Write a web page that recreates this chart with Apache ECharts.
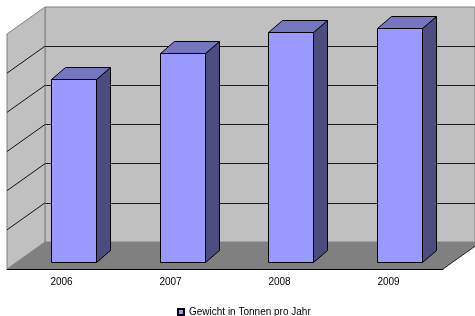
<!DOCTYPE html>
<html>
<head>
<meta charset="utf-8">
<script src="https://cdn.jsdelivr.net/npm/echarts@6/dist/echarts.min.js"></script>
<style>
  html, body { margin: 0; padding: 0; background: #fff; }
  #chart { width: 475px; height: 316px; }
</style>
</head>
<body>
<div id="chart"></div>
<script>
// Daten
const years = ['2006', '2007', '2008', '2009'];
const tonnen = [4.7, 5.35, 5.9, 6.0];
const valueTicks = [0, 1, 2, 3, 4, 5, 6];
const seriesName = 'Gewicht in Tonnen pro Jahr';

const valueMax = valueTicks[valueTicks.length - 1];
const font = 'Liberation Sans, Arial, sans-serif';

// 3D-Versatz (Pixel)
const wallDepth = [-38, 27];   // Rueckwand -> Vorderkante
const barDepth = [14, -12];    // Tiefe der Saeulen
const floorWidth = 436;

const chart = echarts.init(document.getElementById('chart'));

function add(p, d) {
  return [p[0] + d[0], p[1] + d[1]];
}

function renderWalls(params, api) {
  const bl = api.coord([0, 0]);
  const tl = api.coord([0, valueMax]);
  const fl = add(bl, wallDepth);
  const fr = [fl[0] + floorWidth, fl[1]];
  const br = [bl[0] + floorWidth, bl[1]];
  const children = [
    {
      type: 'polygon',
      shape: { points: [bl, fl, fr, br] },
      style: { fill: '#808080', stroke: null }
    },
    {
      type: 'line',
      shape: { x1: fr[0], y1: fr[1], x2: br[0], y2: br[1] },
      style: { stroke: '#222', lineWidth: 1 }
    },
    {
      type: 'polygon',
      shape: { points: [bl, fl, add(tl, wallDepth), tl] },
      style: { fill: '#c0c0c0', stroke: '#808080', lineWidth: 1 }
    }
  ];
  valueTicks.slice(1, -1).forEach(function (v) {
    const p = api.coord([0, v]);
    const q = add(p, wallDepth);
    children.push({
      type: 'line',
      shape: { x1: p[0], y1: p[1], x2: q[0], y2: q[1] },
      style: { stroke: '#111', lineWidth: 1 }
    });
  });
  return { type: 'group', children: children };
}

function renderBar(params, api) {
  const top = api.coord([api.value(0), api.value(1)]);
  const base = api.coord([api.value(0), 0]);
  const w = Math.round(api.size([1, 0])[0] * 0.41);
  const x = Math.round(top[0] - w / 2) + 0.5;
  const y = Math.round(top[1]) + 0.5;
  const y0 = Math.round(base[1]) + 0.5;
  const dx = barDepth[0], dy = barDepth[1];
  const line = { stroke: '#000', lineWidth: 1 };
  return {
    type: 'group',
    children: [
      {
        type: 'polygon',
        shape: { points: [[x + w, y], [x + w + dx, y + dy], [x + w + dx, y0 + dy], [x + w, y0]] },
        style: Object.assign({ fill: '#4c4c7e' }, line)
      },
      {
        type: 'polygon',
        shape: { points: [[x, y], [x + dx, y + dy], [x + w + dx, y + dy], [x + w, y]] },
        style: Object.assign({ fill: '#7676c0' }, line)
      },
      {
        type: 'rect',
        shape: { x: x, y: y, width: w, height: y0 - y },
        style: Object.assign({ fill: '#9999ff' }, line)
      }
    ]
  };
}

const option = {
  backgroundColor: '#fff',
  animation: false,
  textStyle: { fontFamily: font },
  legend: {
    data: [seriesName],
    left: 172,
    top: 302,
    icon: 'rect',
    itemWidth: 6,
    itemHeight: 6,
    textStyle: { fontSize: 10, color: '#000', fontFamily: font }
  },
  grid: [
    // Rueckwand
    { left: 45, top: 7, width: 440, height: 235, show: true, backgroundColor: '#c0c0c0', borderColor: '#808080', borderWidth: 1 },
    // Ebene der Saeulen
    { left: 19, top: 28, width: 435, height: 234 },
    // Vorderkante mit Beschriftung
    { left: 7, top: 200, width: 436, height: 69 }
  ],
  xAxis: [
    { gridIndex: 0, type: 'value', min: 0, max: 1, show: false },
    { gridIndex: 1, type: 'category', data: years, show: false },
    {
      gridIndex: 2,
      type: 'category',
      data: years,
      axisLine: { lineStyle: { color: '#000', width: 1 } },
      axisTick: { length: 5, lineStyle: { color: '#000' } },
      axisLabel: { color: '#000', fontSize: 10, margin: 8, fontFamily: font }
    }
  ],
  yAxis: [
    {
      gridIndex: 0,
      type: 'value',
      min: 0,
      max: valueMax,
      interval: 1,
      axisLine: { show: false },
      axisTick: { show: false },
      axisLabel: { show: false },
      splitLine: { show: true, showMaxLine: false, lineStyle: { color: '#1a1a1a', width: 1 } }
    },
    { gridIndex: 1, type: 'value', min: 0, max: valueMax, show: false, splitLine: { show: false } },
    { gridIndex: 2, type: 'value', show: false, splitLine: { show: false } }
  ],
  series: [
    {
      name: 'walls',
      type: 'custom',
      silent: true,
      xAxisIndex: 0,
      yAxisIndex: 0,
      renderItem: renderWalls,
      data: [[0, 0]]
    },
    {
      name: seriesName,
      type: 'custom',
      xAxisIndex: 1,
      yAxisIndex: 1,
      itemStyle: { color: '#9999ff', borderColor: '#000', borderWidth: 1 },
      renderItem: renderBar,
      data: years.map(function (y, i) { return [i, tonnen[i]]; })
    }
  ]
};

chart.setOption(option);
</script>
</body>
</html>
